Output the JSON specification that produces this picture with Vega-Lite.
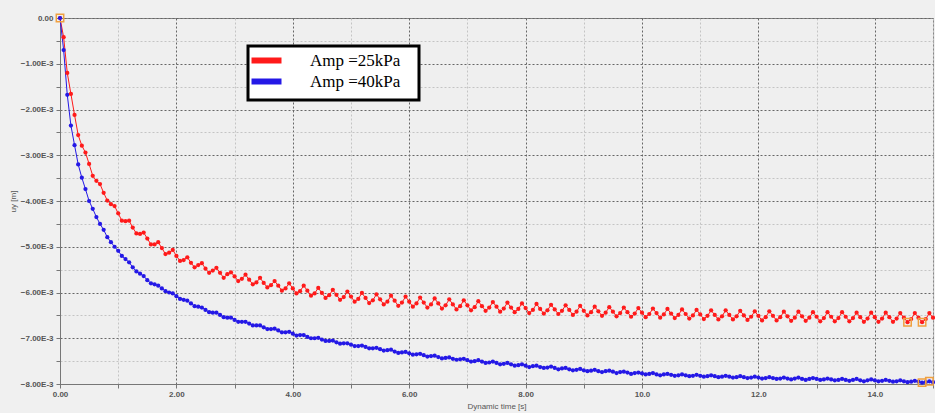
{
"$schema": "https://vega.github.io/schema/vega-lite/v6.json",
"width": 873, "height": 366, "autosize": "none",
"padding": {"left": 60, "top": 18, "right": 2, "bottom": 29},
"background": "#f0f0f0",
"config": {
 "view": {"stroke": "#888888", "fill": "#efefef"},
 "font": "Liberation Sans",
 "axis": {"labelFont": "Liberation Sans", "labelFontSize": 8, "labelColor": "#555555", "labelFontWeight": "bold", "titleFont": "Liberation Sans", "titleFontSize": 8, "titleFontWeight": "normal", "titleColor": "#555555", "domainColor": "#777777", "tickColor": "#777777", "tickSize": 4, "gridDash": [2, 2], "gridOpacity": 1, "gridWidth": 1}
},
"datasets": {
"main": [
{"t":0,"a":0,"b":0},{"t":0.0625,"a":-0.42,"b":-0.70},{"t":0.125,"a":-1.20,"b":-1.68},{"t":0.1875,"a":-1.66,"b":-2.35},
{"t":0.25,"a":-2.12,"b":-2.78},{"t":0.3125,"a":-2.56,"b":-3.20},{"t":0.375,"a":-2.79,"b":-3.49},{"t":0.4375,"a":-2.94,"b":-3.74},
{"t":0.5,"a":-3.19,"b":-4.00},{"t":0.5625,"a":-3.45,"b":-4.17},{"t":0.625,"a":-3.56,"b":-4.35},{"t":0.6875,"a":-3.63,"b":-4.50},
{"t":0.75,"a":-3.82,"b":-4.63},{"t":0.8125,"a":-3.99,"b":-4.79},{"t":0.875,"a":-4.07,"b":-4.90},{"t":0.9375,"a":-4.11,"b":-5.00},
{"t":1,"a":-4.27,"b":-5.09},{"t":1.0625,"a":-4.43,"b":-5.20},{"t":1.125,"a":-4.44,"b":-5.27},{"t":1.1875,"a":-4.43,"b":-5.34},
{"t":1.25,"a":-4.58,"b":-5.45},{"t":1.3125,"a":-4.71,"b":-5.54},{"t":1.375,"a":-4.72,"b":-5.59},{"t":1.4375,"a":-4.69,"b":-5.64},
{"t":1.5,"a":-4.82,"b":-5.73},{"t":1.5625,"a":-4.95,"b":-5.80},{"t":1.625,"a":-4.95,"b":-5.82},{"t":1.6875,"a":-4.90,"b":-5.85},
{"t":1.75,"a":-5.03,"b":-5.91},{"t":1.8125,"a":-5.16,"b":-5.97},{"t":1.875,"a":-5.13,"b":-6.00},{"t":1.9375,"a":-5.07,"b":-6.02},
{"t":2,"a":-5.20,"b":-6.08},{"t":2.0625,"a":-5.31,"b":-6.14},{"t":2.125,"a":-5.29,"b":-6.16},{"t":2.1875,"a":-5.23,"b":-6.18},
{"t":2.25,"a":-5.35,"b":-6.24},{"t":2.3125,"a":-5.45,"b":-6.30},{"t":2.375,"a":-5.40,"b":-6.31},{"t":2.4375,"a":-5.36,"b":-6.33},
{"t":2.5,"a":-5.48,"b":-6.38},{"t":2.5625,"a":-5.57,"b":-6.43},{"t":2.625,"a":-5.52,"b":-6.44},{"t":2.6875,"a":-5.46,"b":-6.44},
{"t":2.75,"a":-5.57,"b":-6.49},{"t":2.8125,"a":-5.68,"b":-6.54},{"t":2.875,"a":-5.60,"b":-6.55},{"t":2.9375,"a":-5.56,"b":-6.55},
{"t":3,"a":-5.65,"b":-6.60},{"t":3.0625,"a":-5.75,"b":-6.64},{"t":3.125,"a":-5.70,"b":-6.64},{"t":3.1875,"a":-5.61,"b":-6.64},
{"t":3.25,"a":-5.72,"b":-6.68},{"t":3.3125,"a":-5.82,"b":-6.72},{"t":3.375,"a":-5.78,"b":-6.72},{"t":3.4375,"a":-5.68,"b":-6.72},
{"t":3.5,"a":-5.79,"b":-6.76},{"t":3.5625,"a":-5.89,"b":-6.80},{"t":3.625,"a":-5.84,"b":-6.80},{"t":3.6875,"a":-5.75,"b":-6.79},
{"t":3.75,"a":-5.85,"b":-6.83},{"t":3.8125,"a":-5.96,"b":-6.87},{"t":3.875,"a":-5.91,"b":-6.87},{"t":3.9375,"a":-5.80,"b":-6.86},
{"t":4,"a":-5.91,"b":-6.90},{"t":4.0625,"a":-6.02,"b":-6.94},{"t":4.125,"a":-5.97,"b":-6.93},{"t":4.1875,"a":-5.85,"b":-6.93},
{"t":4.25,"a":-5.96,"b":-6.97},{"t":4.3125,"a":-6.07,"b":-7.00},{"t":4.375,"a":-6.02,"b":-7.00},{"t":4.4375,"a":-5.90,"b":-6.99},
{"t":4.5,"a":-6.01,"b":-7.03},{"t":4.5625,"a":-6.12,"b":-7.06},{"t":4.625,"a":-6.06,"b":-7.06},{"t":4.6875,"a":-5.94,"b":-7.05},
{"t":4.75,"a":-6.05,"b":-7.09},{"t":4.8125,"a":-6.16,"b":-7.12},{"t":4.875,"a":-6.10,"b":-7.11},{"t":4.9375,"a":-5.98,"b":-7.11},
{"t":5,"a":-6.09,"b":-7.14},{"t":5.0625,"a":-6.20,"b":-7.17},{"t":5.125,"a":-6.14,"b":-7.17},{"t":5.1875,"a":-6.01,"b":-7.16},
{"t":5.25,"a":-6.12,"b":-7.19},{"t":5.3125,"a":-6.23,"b":-7.22},{"t":5.375,"a":-6.17,"b":-7.22},{"t":5.4375,"a":-6.04,"b":-7.21},
{"t":5.5,"a":-6.15,"b":-7.24},{"t":5.5625,"a":-6.26,"b":-7.27},{"t":5.625,"a":-6.20,"b":-7.26},{"t":5.6875,"a":-6.07,"b":-7.25},
{"t":5.75,"a":-6.18,"b":-7.29},{"t":5.8125,"a":-6.29,"b":-7.32},{"t":5.875,"a":-6.22,"b":-7.31},{"t":5.9375,"a":-6.09,"b":-7.30},
{"t":6,"a":-6.20,"b":-7.33},{"t":6.0625,"a":-6.31,"b":-7.36},{"t":6.125,"a":-6.24,"b":-7.35},{"t":6.1875,"a":-6.11,"b":-7.34},
{"t":6.25,"a":-6.22,"b":-7.37},{"t":6.3125,"a":-6.33,"b":-7.40},{"t":6.375,"a":-6.26,"b":-7.39},{"t":6.4375,"a":-6.13,"b":-7.38},
{"t":6.5,"a":-6.24,"b":-7.41},{"t":6.5625,"a":-6.35,"b":-7.44},{"t":6.625,"a":-6.28,"b":-7.43},{"t":6.6875,"a":-6.15,"b":-7.42},
{"t":6.75,"a":-6.26,"b":-7.45},{"t":6.8125,"a":-6.37,"b":-7.47},{"t":6.875,"a":-6.30,"b":-7.46},{"t":6.9375,"a":-6.17,"b":-7.45},
{"t":7,"a":-6.28,"b":-7.48},{"t":7.0625,"a":-6.39,"b":-7.51},{"t":7.125,"a":-6.32,"b":-7.50},{"t":7.1875,"a":-6.19,"b":-7.48},
{"t":7.25,"a":-6.30,"b":-7.51},{"t":7.3125,"a":-6.40,"b":-7.54},{"t":7.375,"a":-6.33,"b":-7.53},{"t":7.4375,"a":-6.21,"b":-7.51},
{"t":7.5,"a":-6.31,"b":-7.54},{"t":7.5625,"a":-6.42,"b":-7.57},{"t":7.625,"a":-6.35,"b":-7.56},{"t":7.6875,"a":-6.22,"b":-7.54},
{"t":7.75,"a":-6.33,"b":-7.57},{"t":7.8125,"a":-6.43,"b":-7.60},{"t":7.875,"a":-6.36,"b":-7.59},{"t":7.9375,"a":-6.24,"b":-7.57},
{"t":8,"a":-6.34,"b":-7.60},{"t":8.0625,"a":-6.45,"b":-7.63},{"t":8.125,"a":-6.38,"b":-7.61},{"t":8.1875,"a":-6.25,"b":-7.60},
{"t":8.25,"a":-6.36,"b":-7.63},{"t":8.3125,"a":-6.46,"b":-7.65},{"t":8.375,"a":-6.39,"b":-7.64},{"t":8.4375,"a":-6.27,"b":-7.62},
{"t":8.5,"a":-6.37,"b":-7.65},{"t":8.5625,"a":-6.47,"b":-7.68},{"t":8.625,"a":-6.40,"b":-7.66},{"t":8.6875,"a":-6.28,"b":-7.65},
{"t":8.75,"a":-6.38,"b":-7.68},{"t":8.8125,"a":-6.49,"b":-7.70},{"t":8.875,"a":-6.42,"b":-7.69},{"t":8.9375,"a":-6.29,"b":-7.67},
{"t":9,"a":-6.40,"b":-7.70},{"t":9.0625,"a":-6.50,"b":-7.72},{"t":9.125,"a":-6.43,"b":-7.71},{"t":9.1875,"a":-6.31,"b":-7.69},
{"t":9.25,"a":-6.41,"b":-7.72},{"t":9.3125,"a":-6.51,"b":-7.74},{"t":9.375,"a":-6.44,"b":-7.72},{"t":9.4375,"a":-6.32,"b":-7.71},
{"t":9.5,"a":-6.42,"b":-7.73},{"t":9.5625,"a":-6.52,"b":-7.76},{"t":9.625,"a":-6.45,"b":-7.74},{"t":9.6875,"a":-6.33,"b":-7.73},
{"t":9.75,"a":-6.43,"b":-7.75},{"t":9.8125,"a":-6.53,"b":-7.78},{"t":9.875,"a":-6.46,"b":-7.76},{"t":9.9375,"a":-6.34,"b":-7.75},
{"t":10,"a":-6.44,"b":-7.77},{"t":10.0625,"a":-6.54,"b":-7.79},{"t":10.125,"a":-6.47,"b":-7.78},{"t":10.1875,"a":-6.35,"b":-7.76},
{"t":10.25,"a":-6.45,"b":-7.79},{"t":10.3125,"a":-6.55,"b":-7.81},{"t":10.375,"a":-6.48,"b":-7.79},{"t":10.4375,"a":-6.36,"b":-7.78},
{"t":10.5,"a":-6.46,"b":-7.80},{"t":10.5625,"a":-6.56,"b":-7.82},{"t":10.625,"a":-6.49,"b":-7.81},{"t":10.6875,"a":-6.37,"b":-7.79},
{"t":10.75,"a":-6.47,"b":-7.81},{"t":10.8125,"a":-6.57,"b":-7.83},{"t":10.875,"a":-6.50,"b":-7.82},{"t":10.9375,"a":-6.38,"b":-7.80},
{"t":11,"a":-6.48,"b":-7.82},{"t":11.0625,"a":-6.58,"b":-7.84},{"t":11.125,"a":-6.51,"b":-7.83},{"t":11.1875,"a":-6.39,"b":-7.81},
{"t":11.25,"a":-6.49,"b":-7.83},{"t":11.3125,"a":-6.59,"b":-7.85},{"t":11.375,"a":-6.52,"b":-7.84},{"t":11.4375,"a":-6.39,"b":-7.82},
{"t":11.5,"a":-6.49,"b":-7.84},{"t":11.5625,"a":-6.59,"b":-7.86},{"t":11.625,"a":-6.52,"b":-7.85},{"t":11.6875,"a":-6.40,"b":-7.83},
{"t":11.75,"a":-6.50,"b":-7.85},{"t":11.8125,"a":-6.60,"b":-7.87},{"t":11.875,"a":-6.53,"b":-7.86},{"t":11.9375,"a":-6.41,"b":-7.84},
{"t":12,"a":-6.51,"b":-7.86},{"t":12.0625,"a":-6.61,"b":-7.88},{"t":12.125,"a":-6.54,"b":-7.87},{"t":12.1875,"a":-6.41,"b":-7.85},
{"t":12.25,"a":-6.51,"b":-7.87},{"t":12.3125,"a":-6.61,"b":-7.89},{"t":12.375,"a":-6.54,"b":-7.88},{"t":12.4375,"a":-6.42,"b":-7.86},
{"t":12.5,"a":-6.52,"b":-7.88},{"t":12.5625,"a":-6.62,"b":-7.90},{"t":12.625,"a":-6.55,"b":-7.88},{"t":12.6875,"a":-6.42,"b":-7.86},
{"t":12.75,"a":-6.52,"b":-7.89},{"t":12.8125,"a":-6.62,"b":-7.91},{"t":12.875,"a":-6.55,"b":-7.89},{"t":12.9375,"a":-6.43,"b":-7.87},
{"t":13,"a":-6.53,"b":-7.89},{"t":13.0625,"a":-6.63,"b":-7.91},{"t":13.125,"a":-6.56,"b":-7.90},{"t":13.1875,"a":-6.43,"b":-7.88},
{"t":13.25,"a":-6.53,"b":-7.90},{"t":13.3125,"a":-6.63,"b":-7.92},{"t":13.375,"a":-6.56,"b":-7.91},{"t":13.4375,"a":-6.43,"b":-7.89},
{"t":13.5,"a":-6.53,"b":-7.91},{"t":13.5625,"a":-6.63,"b":-7.93},{"t":13.625,"a":-6.56,"b":-7.91},{"t":13.6875,"a":-6.44,"b":-7.89},
{"t":13.75,"a":-6.54,"b":-7.92},{"t":13.8125,"a":-6.64,"b":-7.94},{"t":13.875,"a":-6.57,"b":-7.92},{"t":13.9375,"a":-6.44,"b":-7.90},
{"t":14,"a":-6.54,"b":-7.92},{"t":14.0625,"a":-6.64,"b":-7.94},{"t":14.125,"a":-6.57,"b":-7.93},{"t":14.1875,"a":-6.44,"b":-7.91},
{"t":14.25,"a":-6.54,"b":-7.93},{"t":14.3125,"a":-6.64,"b":-7.95},{"t":14.375,"a":-6.57,"b":-7.94},{"t":14.4375,"a":-6.45,"b":-7.92},
{"t":14.5,"a":-6.55,"b":-7.94},{"t":14.5625,"a":-6.65,"b":-7.96},{"t":14.625,"a":-6.58,"b":-7.95},{"t":14.6875,"a":-6.45,"b":-7.93},
{"t":14.75,"a":-6.55,"b":-7.95},{"t":14.8125,"a":-6.65,"b":-7.97},{"t":14.875,"a":-6.58,"b":-7.96},{"t":14.9375,"a":-6.45,"b":-7.94},
{"t":15,"a":-6.55,"b":-7.96}
],
"sel": [
{"t":0,"u":0},{"t":14.5625,"u":-6.65},{"t":14.8125,"u":-6.65},{"t":14.8125,"u":-7.97},{"t":14.9375,"u":-7.94}
]
},
"encoding": {
 "x": {"field": "t", "type": "quantitative", "scale": {"domain": [0, 15], "nice": false, "zero": false},
  "axis": {"title": "Dynamic time [s]", "values": [0,1,2,3,4,5,6,7,8,9,10,11,12,13,14,15],
   "labelExpr": "datum.value % 2 != 0 ? '' : (datum.value < 10 ? format(datum.value, '.2f') : format(datum.value, '.1f'))",
   "labelPadding": 2, "titlePadding": 4, "labelFlush": false,
   "gridColor": {"condition": {"test": "datum.value % 2 == 0", "value": "#666666"}, "value": "#c4c4c4"}}},
 "y": {"field": "u", "type": "quantitative", "scale": {"domain": [-8, 0], "nice": false, "zero": false},
  "axis": {"title": "uy [m]", "values": [0,-0.5,-1,-1.5,-2,-2.5,-3,-3.5,-4,-4.5,-5,-5.5,-6,-6.5,-7,-7.5,-8],
   "labelExpr": "datum.value % 1 != 0 ? '' : (datum.value == 0 ? '0.00' : format(datum.value, '.2f') + 'E-3')",
   "labelPadding": 3, "titlePadding": 3, "labelFlush": false,
   "gridColor": {"condition": {"test": "datum.value % 1 == 0", "value": "#666666"}, "value": "#c4c4c4"}}}
},
"layer": [
 {"data": {"name": "main"}, "transform": [{"fold": ["a", "b"], "as": ["s", "u"]}],
  "mark": {"type": "line", "strokeWidth": 1},
  "encoding": {"color": {"field": "s", "type": "nominal",
   "scale": {"domain": ["a", "b"], "range": ["#ff1a1a", "#2418e6"]},
   "legend": {"title": null, "orient": "none", "legendX": 188, "legendY": 28,
    "labelExpr": "datum.label == 'a' ? 'Amp =25kPa\u2800' : 'Amp =40kPa\u2800'",
    "symbolType": "M-4,0H4", "symbolSize": 56.25, "symbolStrokeWidth": 6, "symbolOffset": 4,
    "labelFont": "Liberation Serif", "labelFontSize": 17, "labelColor": "#000000", "labelOffset": 35,
    "fillColor": "#ffffff", "strokeColor": "#000000", "padding": 6, "rowPadding": -10,
    "encode": {"legend": {"update": {"strokeWidth": {"value": 3}}}}}}}},
 {"data": {"name": "main"}, "transform": [{"fold": ["a", "b"], "as": ["s", "u"]}],
  "mark": {"type": "point", "filled": true, "size": 18, "opacity": 1},
  "encoding": {"color": {"field": "s", "type": "nominal"}}},
 {"data": {"name": "sel"},
  "mark": {"type": "point", "shape": "square", "filled": false, "size": 55, "color": "#f0a040", "strokeWidth": 1.5, "opacity": 1},
  "encoding": {}}
]
}
